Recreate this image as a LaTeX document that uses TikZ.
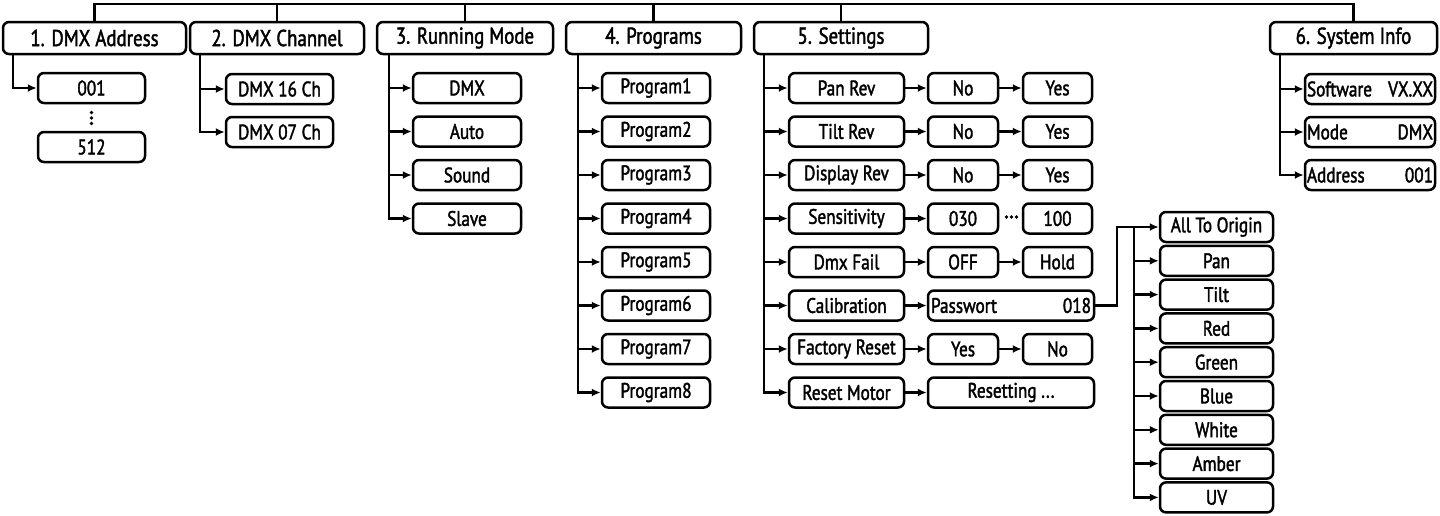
\documentclass[tikz,border=0pt]{standalone}
\usepackage{fontspec}
\setmainfont[FakeStretch=0.82,FakeBold=1.8]{PT Sans}
\usetikzlibrary{arrows.meta}
\begin{document}
\begin{tikzpicture}[x=1pt,y=-1pt,
  bx/.style={draw, line width=2.5pt, rounded corners=6pt, inner sep=0pt, minimum height=30pt, font=\fontsize{21}{22}\selectfont},
  topbox/.style={bx, minimum height=32pt, font=\fontsize{23}{24}\selectfont},
  ln/.style={line width=2.5pt},
  arr/.style={ln, -{Latex[length=9pt,width=8pt]}}]
\useasboundingbox (0,0) rectangle (1440,515);
% top level
\node[topbox, minimum width=183pt] (t1) at (94.5,38) {1. DMX Address};
\node[topbox, minimum width=174pt] (t2) at (277,38) {2. DMX Channel};
\node[topbox, minimum width=176pt] (t3) at (465,38) {3. Running Mode};
\node[topbox, minimum width=175pt] (t4) at (653.5,38) {4. Programs};
\node[topbox, minimum width=174pt] (t5) at (841,38) {5. Settings};
\node[topbox, minimum width=167pt] (t6) at (1353.5,38) {6. System Info};
\coordinate (bus) at (0,4);
\draw[ln] (t1.north) |- (bus -| t6.north) -- (t6.north);
\foreach \t in {t2,t3,t4,t5} \draw[ln] (\t.north) -- (bus -| \t.north);
% 1
\node[bx, minimum width=107pt] (a1) at (91.5,88) {001};
\node[bx, minimum width=107pt] (a2) at (91.5,147) {512};
\foreach \yy in {112.5,118,123.5} \fill (91.5,\yy) circle (1.9pt);
\coordinate (v1) at (13,54);
\draw[arr] (v1) |- (a1.west);
% 2
\node[bx, minimum width=107pt] (b1) at (279.5,89) {DMX 16 Ch};
\node[bx, minimum width=107pt] (b2) at (279.5,132) {DMX 07 Ch};
\coordinate (v2) at (200,54);
\foreach \n in {b1,b2} \draw[arr] (v2) |- (\n.west);
% 3
\node[bx, minimum width=108pt] (c1) at (467,88) {DMX};
\node[bx, minimum width=108pt] (c2) at (467,131.5) {Auto};
\node[bx, minimum width=108pt] (c3) at (467,175) {Sound};
\node[bx, minimum width=108pt] (c4) at (467,218.5) {Slave};
\coordinate (v3) at (389,54);
\foreach \n in {c1,c2,c3,c4} \draw[arr] (v3) |- (\n.west);
% 4
\foreach \k in {1,...,8} {
  \node[bx, minimum width=108pt] (p\k) at (656,{88+43.5*(\k-1)}) {Program\k};
}
\coordinate (v4) at (578,54);
\foreach \k in {1,...,8} \draw[arr] (v4) |- (p\k.west);
% 5
\node[bx, minimum width=115pt] (s1) at (846.5,88) {Pan Rev};
\node[bx, minimum width=115pt] (s2) at (846.5,131.5) {Tilt Rev};
\node[bx, minimum width=115pt] (s3) at (846.5,175) {Display Rev};
\node[bx, minimum width=115pt] (s4) at (846.5,218.5) {Sensitivity};
\node[bx, minimum width=115pt] (s5) at (846.5,262) {Dmx Fail};
\node[bx, minimum width=115pt] (s6) at (846.5,305.5) {Calibration};
\node[bx, minimum width=115pt] (s7) at (846.5,349) {Factory Reset};
\node[bx, minimum width=115pt] (s8) at (846.5,392.5) {Reset Motor};
\coordinate (v5) at (764,54);
\foreach \k in {1,...,8} \draw[arr] (v5) |- (s\k.west);
\node[bx, minimum width=70pt] (n1) at (963,88) {No};
\node[bx, minimum width=69pt] (y1) at (1057.5,88) {Yes};
\node[bx, minimum width=70pt] (n2) at (963,131.5) {No};
\node[bx, minimum width=69pt] (y2) at (1057.5,131.5) {Yes};
\node[bx, minimum width=70pt] (n3) at (963,175) {No};
\node[bx, minimum width=69pt] (y3) at (1057.5,175) {Yes};
\node[bx, minimum width=70pt] (n4) at (963,218.5) {030};
\node[bx, minimum width=69pt] (y4) at (1057.5,218.5) {100};
\node[bx, minimum width=70pt] (n5) at (963,262) {OFF};
\node[bx, minimum width=69pt] (y5) at (1057.5,262) {Hold};
\node[bx, minimum width=166pt] (pw) at (1011,305.5) {\makebox[160pt]{Passwort\hfill 018}};
\node[bx, minimum width=70pt] (n7) at (963,349) {Yes};
\node[bx, minimum width=69pt] (y7) at (1057.5,349) {No};
\node[bx, minimum width=166pt] (rs) at (1011,392.5) {Resetting ...};
\foreach \k in {1,2,3,4,5,7} \draw[arr] (s\k.east) -- (n\k.west);
\foreach \k in {1,2,3,5,7} \draw[arr] (n\k.east) -- (y\k.west);
\draw[arr] (s6.east) -- (pw.west);
\draw[arr] (s8.east) -- (rs.west);
\foreach \xx in {1006.5,1011.5,1016.5} \fill (\xx,217) circle (1.8pt);
% calibration
\foreach \lab [count=\k] in {All To Origin,Pan,Tilt,Red,Green,Blue,White,Amber,UV} {
  \node[bx, minimum width=113pt] (o\k) at (1216.5,{227+33.8*(\k-1)}) {\lab};
}
\coordinate (k1) at (1117,227);
\coordinate (k2) at (1134,227);
\draw[arr] (pw.east) -| (k1) -- (o1.west);
\foreach \k in {2,...,9} \draw[arr] (k2) |- (o\k.west);
% 6
\node[bx, minimum width=130pt] (i1) at (1370,89) {\makebox[126pt]{Software\hfill VX.XX}};
\node[bx, minimum width=130pt] (i2) at (1370,132) {\makebox[126pt]{Mode\hfill DMX}};
\node[bx, minimum width=130pt] (i3) at (1370,175) {\makebox[126pt]{Address\hfill 001}};
\coordinate (v6) at (1280,54);
\foreach \k in {1,2,3} \draw[arr] (v6) |- (i\k.west);
\end{tikzpicture}
\end{document}
